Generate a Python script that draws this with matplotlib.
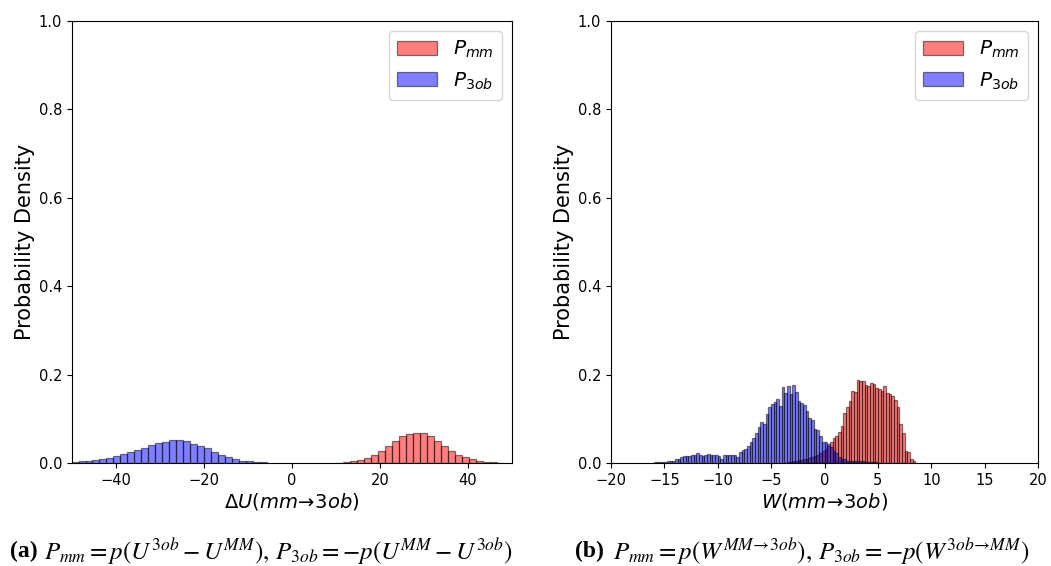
import numpy as np
import matplotlib
matplotlib.use("Agg")
import matplotlib.pyplot as plt

# ---------------- data ----------------
# Panel (a): Delta U histograms (density), equal-width bins
a_mm_start, a_mm_width = 10.1, 1.585
a_mm_vals = [0.001, 0.0015, 0.004, 0.007, 0.011, 0.018, 0.028, 0.038, 0.050, 0.060,
             0.066, 0.069, 0.067, 0.060, 0.049, 0.038, 0.028, 0.019, 0.013, 0.008,
             0.005, 0.003, 0.002, 0.001]
a_3ob_start, a_3ob_width = -50.1, 1.585
a_3ob_vals = [0.002, 0.004, 0.005, 0.007, 0.009, 0.011, 0.015, 0.020, 0.026, 0.029,
              0.035, 0.041, 0.045, 0.048, 0.051, 0.052, 0.050, 0.044, 0.038, 0.033,
              0.026, 0.017, 0.013, 0.008, 0.005, 0.004, 0.003, 0.0015]

# Panel (b): W histograms (density)
b_mm_start, b_mm_width = -3.5, 0.25
b_mm_vals = [0.002, 0.003, 0.004, 0.005, 0.006, 0.007, 0.008, 0.009, 0.011, 0.013,
             0.015, 0.018, 0.022, 0.027, 0.032, 0.039, 0.047, 0.057,
             0.060, 0.071, 0.084, 0.112, 0.127, 0.141, 0.162, 0.160, 0.188, 0.186,
             0.186, 0.177, 0.175, 0.180, 0.179, 0.170, 0.167, 0.164, 0.175, 0.158,
             0.156, 0.152, 0.143, 0.126, 0.088, 0.069, 0.028, 0.026, 0.009, 0.005]
b_3ob_start, b_3ob_width = -16.0, 0.25
b_3ob_vals = [0.0015, 0.0015, 0.002, 0.003, 0.003, 0.004, 0.005, 0.005, 0.008, 0.010,
              0.013, 0.015, 0.016, 0.016, 0.017, 0.018, 0.022, 0.019, 0.016, 0.018,
              0.020, 0.019, 0.017, 0.017, 0.015, 0.009, 0.018, 0.018, 0.018, 0.018,
              0.017, 0.014, 0.026, 0.029, 0.031, 0.038, 0.047, 0.057, 0.068, 0.082,
              0.092, 0.088, 0.111, 0.126, 0.133, 0.139, 0.145, 0.130, 0.171, 0.158,
              0.175, 0.156, 0.177, 0.160, 0.141, 0.136, 0.132, 0.118, 0.101, 0.097,
              0.077, 0.074, 0.062, 0.047, 0.047, 0.044, 0.037, 0.028, 0.022, 0.013,
              0.008, 0.008, 0.005, 0.005, 0.005, 0.005, 0.005, 0.005, 0.005, 0.003,
              0.003, 0.003, 0.003, 0.003]

label_mm = r"$P_{mm}$"
label_3ob = r"$P_{3ob}$"
xlabel_a = r"$\Delta U(mm\!\rightarrow\!3ob)$"
xlabel_b = r"$W(mm\!\rightarrow\!3ob)$"
ylabel = "Probability Density"
xticks_a = [-40, -20, 0, 20, 40]
xticks_b = [-20, -15, -10, -5, 0, 5, 10, 15, 20]
yticks = [0.0, 0.2, 0.4, 0.6, 0.8, 1.0]
caption_a = r"$P_{mm}=p(U^{3ob}-U^{MM}),\,P_{3ob}=-p(U^{MM}-U^{3ob})$"
caption_b = r"$P_{mm}=p(W^{MM\!\rightarrow\!3ob}),\,P_{3ob}=-p(W^{3ob\!\rightarrow\!MM})$"

# ---------------- plot ----------------
fig = plt.figure(figsize=(10.51, 5.66), dpi=100)
W, H = 1051, 566
ax_a = fig.add_axes([72 / W, (H - 463) / H, 440 / W, 442 / H])
ax_b = fig.add_axes([611 / W, (H - 463) / H, 427 / W, 442 / H])


def draw_hist(ax, start, width, vals, color, label):
    edges = start + width * np.arange(len(vals))
    ax.bar(edges, vals, width=width, align="edge", color=color, alpha=0.5,
           edgecolor="black", linewidth=0.9, label=label)


for ax, (mm, ob), xl, xlim, xt in [
    (ax_a, ((a_mm_start, a_mm_width, a_mm_vals), (a_3ob_start, a_3ob_width, a_3ob_vals)),
     xlabel_a, (-50, 50), xticks_a),
    (ax_b, ((b_mm_start, b_mm_width, b_mm_vals), (b_3ob_start, b_3ob_width, b_3ob_vals)),
     xlabel_b, (-20, 20), xticks_b),
]:
    draw_hist(ax, *mm, "red", label_mm)
    draw_hist(ax, *ob, "blue", label_3ob)
    ax.set_xlim(*xlim)
    ax.set_ylim(0, 1.0)
    ax.set_xticks(xt)
    ax.set_yticks(yticks)
    ax.tick_params(labelsize=10.5)
    ax.set_xlabel(xl, fontsize=14, labelpad=2)
    ax.set_ylabel(ylabel, fontsize=15, labelpad=3)
    ax.legend(loc="upper right", fontsize=14.5, handlelength=2.0)

# captions
cap_kw = dict(fontsize=18, va="center", math_fontfamily="stix")
fig.text(10 / W, 1 - 551 / H, "(a)", fontsize=17, fontweight="bold",
         family="Liberation Serif", va="center")
fig.text(44 / W, 1 - 552 / H, caption_a, **cap_kw)
fig.text(575 / W, 1 - 551 / H, "(b)", fontsize=17, fontweight="bold",
         family="Liberation Serif", va="center")
fig.text(613 / W, 1 - 552 / H, caption_b, **cap_kw)

fig.savefig("out.png", dpi=100)
